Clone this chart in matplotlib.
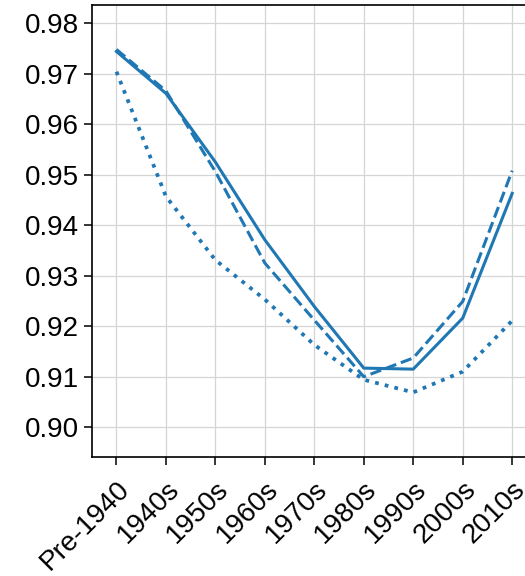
import matplotlib
matplotlib.use("Agg")
import matplotlib.pyplot as plt

decades = ['Pre-1940', '1940s', '1950s', '1960s', '1970s', '1980s', '1990s', '2000s', '2010s']
solid_vals = [0.9744, 0.9661, 0.9525, 0.9371, 0.9239, 0.9117, 0.9115, 0.9216, 0.9463]
dashed_vals = [0.9748, 0.9666, 0.9506, 0.9325, 0.9212, 0.9100, 0.9137, 0.9249, 0.9508]
dotted_vals = [0.9704, 0.9457, 0.9331, 0.9253, 0.9163, 0.9094, 0.9069, 0.9110, 0.9211]

plt.rcParams['font.family'] = ['Liberation Sans', 'DejaVu Sans']

fig = plt.figure(figsize=(5.25, 5.76), dpi=100)
ax = fig.add_axes([0.1747, 0.2066, 0.848, 0.7847])

color = '#1f77b4'
x = range(len(decades))
ax.plot(x, solid_vals, color=color, linestyle='-', linewidth=2.2)
ax.plot(x, dashed_vals, color=color, linestyle='--', linewidth=2.2)
ax.plot(x, dotted_vals, color=color, linestyle=':', linewidth=2.7)

ax.set_xlim(-0.5, 8.5)
ax.set_ylim(0.8941, 0.9836)
ax.set_yticks([0.90, 0.91, 0.92, 0.93, 0.94, 0.95, 0.96, 0.97, 0.98])
ax.set_yticklabels([f'{v:.2f}' for v in ax.get_yticks()])
ax.set_xticks(list(x))
ax.set_xticklabels(decades, rotation=45, ha='right', va='top', rotation_mode='anchor')

ax.tick_params(labelsize=20, length=6, width=1.1)
ax.tick_params(axis='x', pad=8)
ax.grid(True, color='#d5d5d5', linewidth=0.9)
ax.set_axisbelow(True)
for sp in ax.spines.values():
    sp.set_linewidth(1.2)

fig.savefig('out.png', dpi=100)
